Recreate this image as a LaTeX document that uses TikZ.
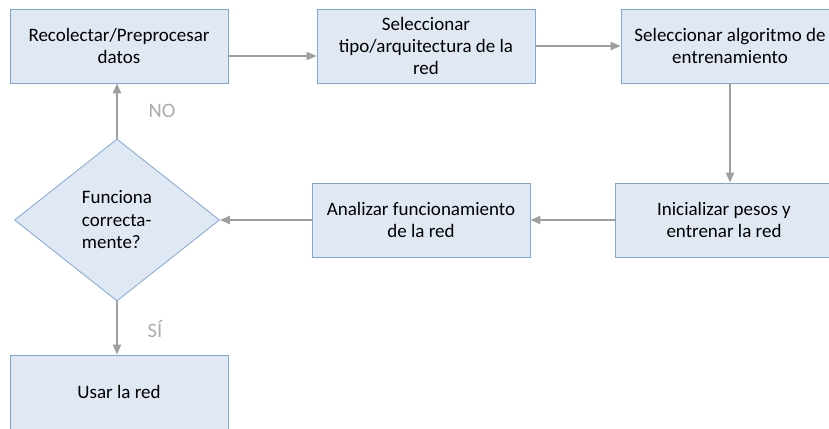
\documentclass[tikz,border=0pt]{standalone}
\usepackage{fontspec}
\setmainfont{Carlito}
\usetikzlibrary{shapes.geometric,arrows.meta}
\definecolor{boxfill}{HTML}{DFE8F3}
\definecolor{boxline}{HTML}{7EA6DA}
\definecolor{arrowgray}{HTML}{9E9E9E}
\definecolor{labelgray}{HTML}{ABABAB}
\tikzset{
  stepbox/.style={draw=boxline, fill=boxfill, line width=0.8pt,
    minimum width=218pt, minimum height=74pt, inner sep=0pt,
    align=center, font=\fontsize{19}{22}\selectfont},
  decision/.style={diamond, draw=boxline, fill=boxfill, line width=0.8pt,
    minimum width=205pt, minimum height=162pt, inner sep=0pt,
    align=left, font=\fontsize{19}{22.5}\selectfont},
  flow/.style={draw=arrowgray, line width=2pt,
    -{Triangle[length=10pt,width=8pt]}},
  answer/.style={text=labelgray, font=\fontsize{20.5}{24}\selectfont}
}
\begin{document}
\begin{tikzpicture}[x=1pt,y=1pt]
\useasboundingbox (0,0) rectangle (829,-428);
\clip (0,0) rectangle (829,-428);
% process steps
\node[stepbox] (collect) at (119,-46) {Recolectar/Preprocesar\\datos};
\node[stepbox] (arch)    at (426,-46) {Seleccionar\\tipo/arquitectura de la\\red};
\node[stepbox] (algo)    at (730,-46) {Seleccionar algoritmo de\\entrenamiento};
\node[stepbox] (train)   at (724,-220) {Inicializar pesos y\\entrenar la red};
\node[stepbox] (analyze) at (421,-220) {Analizar funcionamiento\\de la red};
\node[decision] (check)  at (117,-220) {Funciona\\correcta-\\mente?};
\node[stepbox] (use)     at (119,-392) {Usar la red};
% connectors
\draw[flow] ([yshift=-10pt]collect.east) -- ([yshift=-10pt]arch.west);
\draw[flow] (arch.east) -- (algo.west);
\draw[flow] (algo.south) -- (algo.south |- train.north);
\draw[flow] (train.west) -- (analyze.east);
\draw[flow] (analyze.west) -- (check.east);
\draw[flow] (check.north) -- (check.north |- collect.south);
\draw[flow] (check.south) -- (check.south |- use.north);
% decision labels
\node[answer] (no) at (162,-111) {NO};
\node[answer] (yes) at (155,-329) {SÍ};
\end{tikzpicture}
\end{document}
